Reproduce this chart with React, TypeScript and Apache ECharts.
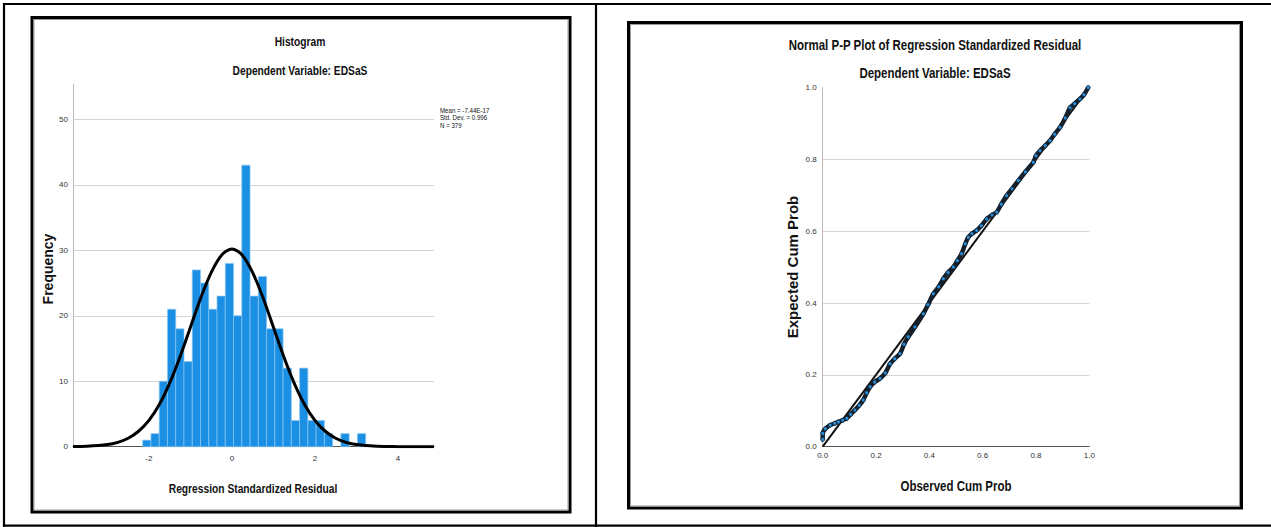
import React, { useEffect, useRef } from "react";
import * as echarts from "echarts";

// ---------- Histogram data ----------
const histBinStart = -2.15;
const histBinWidth = 0.199;
const histCounts = [1, 2, 10, 21, 18, 13, 27, 25, 21, 23, 28, 20, 43, 23, 26, 18, 18, 12, 4, 12, 4, 4, 2, 0, 2, 0, 2];
const histXTicks = [-2, 0, 2, 4];
const histYTicks = [0, 10, 20, 30, 40, 50];
const curveX = [-3.83, -3.5, -3, -2.75, -2.5, -2.25, -2, -1.75, -1.5, -1.25, -1, -0.75, -0.5, -0.25, 0, 0.25, 0.5, 0.75, 1, 1.25, 1.5, 1.75, 2, 2.25, 2.5, 2.75, 3, 3.5, 4, 4.5, 4.87];
const curveY = [0.02, 0.06, 0.32, 0.67, 1.29, 2.36, 4.02, 6.45, 9.72, 13.74, 18.24, 22.75, 26.6, 29.26, 30.2, 29.26, 26.6, 22.75, 18.24, 13.74, 9.72, 6.45, 4.02, 2.36, 1.29, 0.67, 0.32, 0.06, 0.01, 0, 0];
const statsLines = ["Mean = -7.44E-17", "Std. Dev. = 0.996", "N = 379"];

// ---------- P-P plot data ----------
const ppObserved = [0, 0, 0.01, 0.028, 0.045, 0.059, 0.075, 0.09, 0.105, 0.121, 0.137, 0.152, 0.165, 0.178, 0.195, 0.215, 0.235, 0.2525, 0.27, 0.29, 0.305, 0.321, 0.346, 0.3775, 0.395, 0.415, 0.435, 0.4525, 0.47, 0.49, 0.505, 0.521, 0.535, 0.546, 0.56, 0.5775, 0.595, 0.615, 0.635, 0.6525, 0.67, 0.69, 0.71, 0.734, 0.76, 0.79, 0.8, 0.815, 0.835, 0.8525, 0.87, 0.89, 0.91, 0.9275, 0.945, 0.965, 0.98, 0.996];
const ppExpected = [0.02, 0.037, 0.05, 0.06, 0.065, 0.069, 0.074, 0.079, 0.09, 0.102, 0.115, 0.13, 0.15, 0.167, 0.18, 0.19, 0.205, 0.231, 0.245, 0.259, 0.285, 0.306, 0.333, 0.37, 0.395, 0.426, 0.445, 0.4676, 0.485, 0.5, 0.518, 0.537, 0.565, 0.583, 0.593, 0.602, 0.615, 0.634, 0.645, 0.653, 0.675, 0.699, 0.718, 0.741, 0.765, 0.792, 0.81, 0.824, 0.838, 0.852, 0.87, 0.889, 0.915, 0.944, 0.955, 0.968, 0.98, 1.0];
const ppRefLine = [[0, 0], [1, 1]];

const SANS = "'Liberation Sans', Arial, sans-serif";
const NARROW_SCALE = 0.82;

function narrowText(text: string, x: number, y: number, size: number, bold: boolean, align = "center") {
  return {
    type: "text",
    x,
    y,
    scaleX: NARROW_SCALE,
    style: {
      text,
      align,
      verticalAlign: "middle",
      font: `${bold ? "bold " : ""}${size}px ${SANS}`,
      fill: "#111",
    },
  };
}

export default function App() {
  const ref = useRef<HTMLDivElement>(null);
  useEffect(() => {
    if (!ref.current) return;
    const chart = echarts.init(ref.current, null, { renderer: "svg" });

    const histData = histCounts.map((c, i) => [
      histBinStart + i * histBinWidth,
      histBinStart + (i + 1) * histBinWidth,
      c,
    ]);

    const gridColor = "#d4d4d4";
    const labelStyle = { fontFamily: SANS, fontSize: 8, color: "#333" };

    const option: any = {
      animation: false,
      backgroundColor: "#ffffff",
      grid: [
        { left: 73, top: 84, width: 361, height: 362.7 },
        { left: 822.7, top: 87.5, width: 266.6, height: 359.2 },
      ],
      xAxis: [
        {
          gridIndex: 0,
          type: "value",
          min: -3.83,
          max: 4.87,
          axisLine: { onZero: false, lineStyle: { color: "#555", width: 1 } },
          axisTick: { show: false },
          splitLine: { show: false },
          axisLabel: { ...labelStyle, customValues: histXTicks, margin: 8 },
        },
        {
          gridIndex: 1,
          type: "value",
          min: 0,
          max: 1,
          interval: 0.2,
          axisLine: { onZero: false, lineStyle: { color: "#555", width: 1 } },
          axisTick: { show: false },
          splitLine: { show: false },
          axisLabel: { ...labelStyle, margin: 5, formatter: (v: number) => v.toFixed(1) },
        },
      ],
      yAxis: [
        {
          gridIndex: 0,
          type: "value",
          min: 0,
          max: 55.4,
          interval: 10,
          axisLine: { show: true, onZero: false, lineStyle: { color: "#bdbdbd", width: 1 } },
          axisTick: { show: false },
          splitLine: {
            show: true,
            showMinLine: false,
            showMaxLine: false,
            lineStyle: { color: gridColor, width: 1 },
          },
          axisLabel: {
            ...labelStyle,
            showMaxLabel: false,
            margin: 5,
            formatter: (v: number) => (histYTicks.includes(v) ? String(v) : ""),
          },
        },
        {
          gridIndex: 1,
          type: "value",
          min: 0,
          max: 1,
          interval: 0.2,
          axisLine: { show: true, onZero: false, lineStyle: { color: "#bdbdbd", width: 1 } },
          axisTick: { show: false },
          splitLine: {
            show: true,
            showMinLine: false,
            showMaxLine: false,
            lineStyle: { color: gridColor, width: 1 },
          },
          axisLabel: { ...labelStyle, margin: 6, formatter: (v: number) => v.toFixed(1) },
        },
      ],
      series: [
        {
          type: "custom",
          xAxisIndex: 0,
          yAxisIndex: 0,
          data: histData,
          encode: { x: [0, 1], y: 2 },
          z: 2,
          renderItem: (params: any, api: any) => {
            const c = api.value(2);
            if (!c) return { type: "group", children: [] };
            const p0 = api.coord([api.value(0), c]);
            const p1 = api.coord([api.value(1), 0]);
            return {
              type: "rect",
              shape: { x: p0[0], y: p0[1], width: p1[0] - p0[0], height: p1[1] - p0[1] },
              style: { fill: "#1a8fe3", stroke: "#8ac6f3", lineWidth: 0.7 },
            };
          },
        },
        {
          type: "line",
          xAxisIndex: 0,
          yAxisIndex: 0,
          data: curveX.map((x, i) => [x, curveY[i]]),
          smooth: 0.3,
          symbol: "none",
          z: 3,
          lineStyle: { color: "#000", width: 3 },
        },
        {
          type: "line",
          xAxisIndex: 1,
          yAxisIndex: 1,
          data: ppRefLine,
          symbol: "none",
          z: 2,
          lineStyle: { color: "#111", width: 2 },
        },
        {
          type: "line",
          xAxisIndex: 1,
          yAxisIndex: 1,
          data: ppObserved.map((x, i) => [x, ppExpected[i]]),
          smooth: 0.2,
          symbol: "circle",
          symbolSize: 4,
          showSymbol: true,
          z: 3,
          lineStyle: { color: "#14202c", width: 4.5 },
          itemStyle: { color: "#2b8cd6", borderColor: "#0d1a26", borderWidth: 0.8 },
        },
      ],
      graphic: [
        // outer table lines
        { type: "line", shape: { x1: 3, y1: 4, x2: 1271, y2: 4 }, style: { stroke: "#000", lineWidth: 2.2 } },
        { type: "line", shape: { x1: 4, y1: 3, x2: 4, y2: 527 }, style: { stroke: "#000", lineWidth: 2.2 } },
        { type: "line", shape: { x1: 596, y1: 3, x2: 596, y2: 527 }, style: { stroke: "#000", lineWidth: 2.2 } },
        { type: "line", shape: { x1: 3, y1: 525.6, x2: 1271, y2: 525.6 }, style: { stroke: "#000", lineWidth: 2.2 } },
        // inner boxes
        { type: "rect", shape: { x: 32, y: 17.5, width: 538, height: 494.5 }, style: { fill: "none", stroke: "#000", lineWidth: 3 } },
        { type: "rect", shape: { x: 34, y: 19.5, width: 534, height: 490.5 }, style: { fill: "none", stroke: "#9a9a9a", lineWidth: 1 } },
        { type: "rect", shape: { x: 628.5, y: 22.5, width: 613, height: 485.5 }, style: { fill: "none", stroke: "#000", lineWidth: 3 } },
        { type: "rect", shape: { x: 630.5, y: 24.5, width: 609, height: 481.5 }, style: { fill: "none", stroke: "#9a9a9a", lineWidth: 1 } },
        // histogram titles
        narrowText("Histogram", 300, 42, 12.5, true),
        narrowText("Dependent Variable: EDSaS", 300, 71, 12.5, true),
        narrowText("Regression Standardized Residual", 253, 489, 12.5, true),
        { type: "text", x: 48, y: 269, rotation: Math.PI / 2, style: { text: "Frequency", align: "center", verticalAlign: "middle", font: `bold 14px ${SANS}`, fill: "#111" } },
        ...statsLines.map((t, i) => narrowText(t, 440, 110 + i * 7.6, 7.5, false, "left")),
        // P-P titles
        narrowText("Normal P-P Plot of Regression Standardized Residual", 935, 45, 14, true),
        narrowText("Dependent Variable: EDSaS", 935, 73.5, 14, true),
        narrowText("Observed Cum Prob", 956, 486, 14, true),
        { type: "text", x: 792, y: 267, rotation: Math.PI / 2, style: { text: "Expected Cum Prob", align: "center", verticalAlign: "middle", font: `bold 15px ${SANS}`, fill: "#111" } },
      ],
    };

    chart.setOption(option);
    return () => chart.dispose();
  }, []);

  return (
    <div
      ref={ref}
      style={{ position: "absolute", left: 0, top: 0, width: 1271, height: 527 }}
    />
  );
}
